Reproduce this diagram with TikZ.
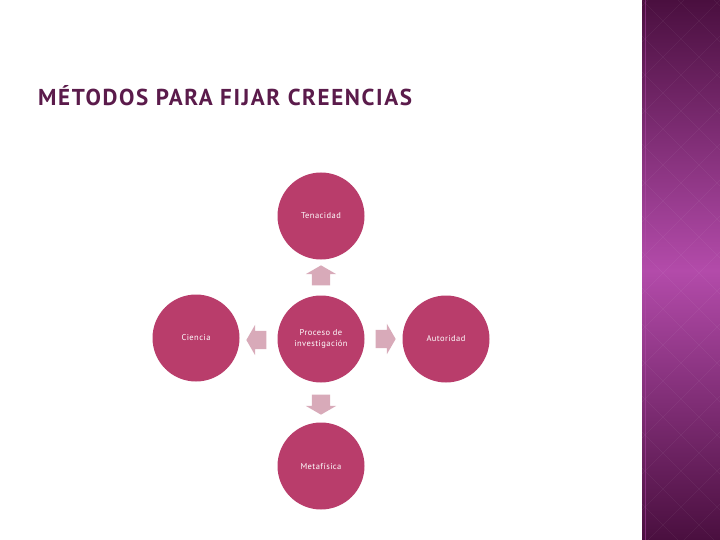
\documentclass[tikz,border=0pt]{standalone}
\usepackage{fontspec}
\setmainfont{PT Sans}
\usetikzlibrary{shapes.arrows}
\definecolor{circlefill}{HTML}{B93D6B}
\definecolor{arrowfill}{HTML}{D8AAB9}
\definecolor{titlecol}{HTML}{5B1B4B}
\definecolor{bardark}{HTML}{4A0F3F}
\definecolor{barlight}{HTML}{B34BAA}
\tikzset{
  metodo/.style={circle, fill=circlefill, minimum size=87pt, inner sep=0pt,
    text=white, font=\fontsize{8.5}{11}\selectfont\addfontfeatures{LetterSpace=5},
    align=center},
  flecha/.style={single arrow, fill=arrowfill, minimum height=20pt,
    inner xsep=0pt, inner ysep=9pt, single arrow head extend=6pt,
    single arrow tip angle=120, rotate=#1}
}

\begin{document}
\begin{tikzpicture}[x=1pt,y=-1pt]
\useasboundingbox (0,0) rectangle (720,540);
\fill[white] (0,0) rectangle (720,540);
% side bar
\shade[top color=bardark, bottom color=barlight] (642,0) rectangle (720,271);
\shade[top color=barlight, bottom color=bardark] (642,270) rectangle (720,540);
\begin{scope}
  \clip (642,0) rectangle (720,540);
  \foreach \k in {-8,...,24}
    \draw[white, opacity=0.06] (642,\k*36) -- ++(78,78) (720,\k*36) -- ++(-78,78);
\end{scope}
\draw[barlight, opacity=0.5] (645,0) -- (645,540);
% title
\node[anchor=base west, text=titlecol, inner sep=0pt,
      font=\fontsize{23}{26}\bfseries\selectfont\addfontfeatures{LetterSpace=7}]
      (titulo) at (38,106) {MÉTODOS PARA FIJAR CREENCIAS};
% circles
\begin{scope}[every node/.style={metodo}]
    \node (P) at (321,339) {Proceso de\\investigación};
    \node (T) at (321,216) {Tenacidad};
    \node (C) at (196,338) {Ciencia};
    \node (A) at (446,339) {Autoridad};
    \node (M) at (321,466) {Metafísica};
\end{scope}
% block arrows
\node[flecha=90]  (aT) at (321,278) {};
\node[flecha=180] (aC) at (259,340) {};
\node[flecha=0]   (aA) at (383,339) {};
\node[flecha=270] (aM) at (321,402) {};
\end{tikzpicture}
\end{document}
